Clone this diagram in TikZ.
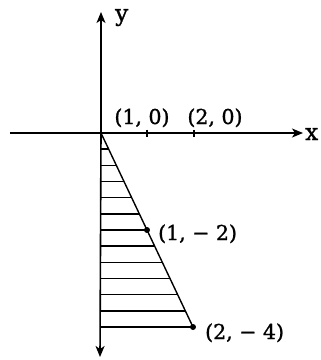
\documentclass[tikz,border=0pt]{standalone}
\usepackage{fontspec}
\setmainfont[FakeBold=1.2]{DejaVu Serif}
\usetikzlibrary{arrows.meta}
\tikzset{
  axis/.style={line width=1.6pt,-{Stealth[length=11pt,width=9pt,inset=3pt]}},
  hatch/.style={line width=1.4pt},
  tickmark/.style={line width=1.3pt},
  lbl/.style={font=\fontsize{20.5}{24}\selectfont,inner sep=0pt,anchor=base west},
  axlbl/.style={font=\fontsize{23}{26}\selectfont,inner sep=0pt,anchor=base west},
  dotpt/.style={circle,fill=black,inner sep=0pt,minimum size=6pt}
}
\begin{document}
\begin{tikzpicture}[x=1pt,y=-1pt]
\useasboundingbox (0,0) rectangle (321,360);
\coordinate (O) at (101,133);
\coordinate (xl) at (10,133);
\coordinate (xr) at (303,133);
\coordinate (yt) at (101,12);
\coordinate (yb) at (100,357);
\node[dotpt] (P1) at (147,230) {};
\node[dotpt] (P2) at (193,327) {};
% hatching
\foreach \k in {1,...,12}{
  \pgfmathsetmacro{\yy}{133+194*\k/12}
  \pgfmathsetmacro{\xx}{101+92*\k/12}
  \draw[hatch] (101,\yy) -- (\xx,\yy);
}
\draw[hatch] (O) -- (P1.center) -- (P2.center);
% axes
\draw[axis] (xl) -- (xr);
\draw[axis] (O) -- (yt);
\draw[axis] (O) -- (yb);
% ticks
\draw[tickmark] (147,129.5) -- (147,136.5);
\draw[tickmark] (194,129.5) -- (194,136.5);
% labels
\node[axlbl] (lx) at (305,140) {x};
\node[axlbl] (ly) at (115,21) {y};
\node[lbl,anchor=base] (l10) at (142,124) {(1, 0)};
\node[lbl,anchor=base] (l20) at (215,124) {(2, 0)};
\node[lbl] (l12) at (158,240) {(1, − 2)};
\node[lbl] (l24) at (205,339) {(2, − 4)};
\end{tikzpicture}
\end{document}
